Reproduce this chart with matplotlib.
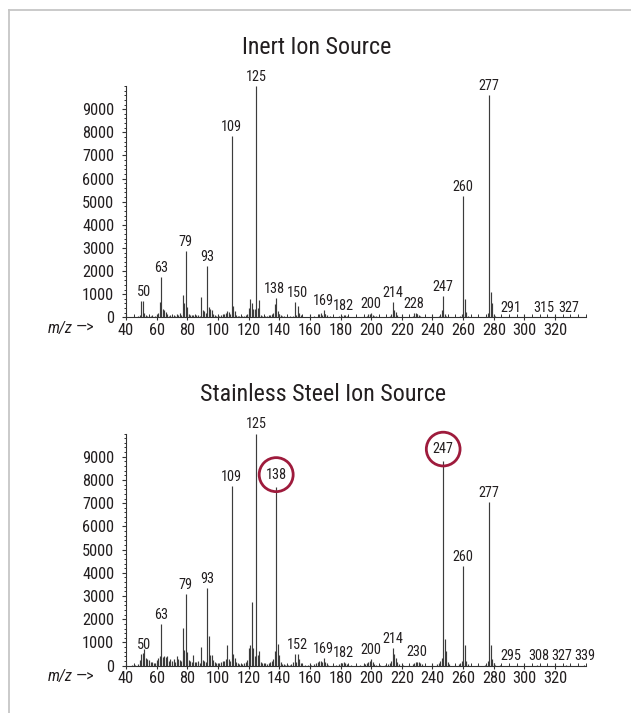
import matplotlib
matplotlib.use("Agg")
import matplotlib.pyplot as plt
from matplotlib.ticker import MultipleLocator, FixedLocator
from matplotlib.lines import Line2D
from matplotlib import font_manager

names = sorted({f.name for f in font_manager.fontManager.ttflist})
cands = ['Roboto Condensed', 'Liberation Sans Narrow', 'DejaVu Sans Condensed', 'Open Sans Condensed',
         'Noto Sans Condensed', 'Arial Narrow', 'Roboto', 'Liberation Sans', 'DejaVu Sans']
FONT = [c for c in cands if c in names] or ['DejaVu Sans']
plt.rcParams['font.family'] = FONT

# ---------------- data ----------------
top_title = "Inert Ion Source"
bottom_title = "Stainless Steel Ion Source"

top_mz = [44, 45, 48, 49, 50, 51, 52, 53, 54, 55, 56, 57, 59, 60, 61, 62, 63, 64, 65, 66,
          67, 68, 69, 70, 71, 72, 73, 74, 75, 76, 77, 78, 79, 80, 81, 82, 83, 84, 85, 86,
          87, 88, 89, 90, 91, 92, 93, 94, 95, 96, 97, 98, 99, 100, 101, 102, 103, 104, 105, 106,
          107, 108, 109, 110, 111, 112, 113, 114, 115, 116, 117, 118, 119, 120, 121, 122, 123, 124, 125, 126,
          127, 128, 129, 130, 131, 132, 133, 134, 135, 136, 137, 138, 139, 140, 141, 142, 143, 145, 147, 149,
          150, 151, 152, 153, 154, 155, 158, 160, 163, 165, 166, 167, 168, 169, 170, 171, 173, 177, 179, 181,
          182, 183, 184, 185, 188, 190, 195, 197, 198, 199, 200, 201, 202, 203, 210, 212, 213, 214, 215, 216,
          217, 219, 225, 227, 228, 229, 230, 231, 232, 240, 244, 245, 246, 247, 248, 249, 255, 258, 259, 260,
          261, 262, 263, 270, 275, 276, 277, 278, 279, 280, 281, 291, 315, 327]
top_int = [30, 40, 40, 100, 720, 700, 200, 120, 60, 60, 40, 80, 50, 80, 200, 650, 1730, 350, 300, 250,
           150, 60, 100, 50, 90, 60, 150, 120, 180, 120, 950, 600, 2880, 450, 150, 80, 100, 80, 60, 80,
           100, 60, 870, 300, 280, 200, 2200, 450, 380, 300, 150, 80, 60, 60, 50, 80, 150, 150, 180, 260,
           250, 150, 7850, 500, 280, 120, 60, 40, 50, 40, 60, 100, 150, 400, 790, 620, 380, 380, 10000, 400,
           750, 100, 60, 40, 60, 50, 80, 100, 120, 200, 580, 850, 280, 150, 100, 60, 40, 40, 40, 60,
           650, 120, 480, 200, 80, 40, 30, 30, 40, 60, 150, 180, 120, 330, 150, 80, 40, 30, 40, 60,
           100, 80, 40, 30, 30, 30, 40, 60, 130, 150, 180, 120, 60, 40, 30, 50, 150, 650, 300, 250,
           80, 30, 30, 50, 200, 180, 160, 100, 60, 30, 60, 100, 320, 920, 150, 60, 30, 60, 150, 5250,
           780, 250, 60, 30, 50, 200, 9600, 1100, 600, 100, 40, 30, 20, 20]
top_labels = [50, 63, 79, 93, 109, 125, 138, 150, 169, 182, 200, 214, 228, 247, 260, 277, 291, 315, 327]

bot_mz = [44, 45, 46, 48, 49, 50, 51, 52, 53, 54, 55, 56, 57, 58, 59, 60, 61, 62, 63, 64,
          65, 66, 67, 68, 69, 70, 71, 72, 73, 74, 75, 76, 77, 78, 79, 80, 81, 82, 83, 84,
          85, 86, 87, 88, 89, 90, 91, 92, 93, 94, 95, 96, 97, 98, 99, 100, 101, 102, 103, 104,
          105, 106, 107, 108, 109, 110, 111, 112, 113, 114, 115, 116, 117, 118, 119, 120, 121, 122, 123, 124,
          125, 126, 127, 128, 129, 130, 131, 132, 133, 134, 135, 136, 137, 138, 139, 140, 141, 142, 143, 144,
          145, 146, 147, 148, 149, 150, 151, 152, 153, 154, 155, 157, 159, 161, 163, 164, 165, 166, 167, 168,
          169, 170, 171, 172, 175, 177, 179, 180, 181, 182, 183, 184, 185, 187, 190, 193, 195, 196, 197, 198,
          199, 200, 201, 202, 203, 206, 209, 211, 212, 213, 214, 215, 216, 217, 218, 221, 225, 227, 228, 229,
          230, 231, 232, 233, 240, 243, 244, 245, 246, 247, 248, 249, 250, 251, 255, 257, 258, 259, 260, 261,
          262, 263, 270, 274, 275, 276, 277, 278, 279, 280, 281, 284, 295, 308, 327, 339]
bot_int = [50, 60, 40, 80, 250, 500, 550, 700, 350, 300, 250, 150, 180, 100, 120, 250, 350, 400, 1780, 380,
           400, 380, 420, 200, 300, 200, 280, 150, 420, 300, 250, 200, 1610, 670, 3080, 600, 250, 200, 150, 480,
           150, 150, 200, 120, 790, 250, 200, 180, 3340, 1280, 450, 480, 250, 150, 100, 80, 100, 150, 200, 200,
           300, 880, 300, 200, 7750, 500, 350, 150, 100, 80, 80, 60, 100, 150, 250, 750, 870, 2730, 780, 400,
           10000, 450, 620, 150, 100, 80, 100, 80, 120, 150, 200, 300, 650, 7700, 930, 450, 150, 80, 60, 50,
           60, 40, 50, 80, 150, 500, 150, 520, 300, 100, 60, 40, 50, 40, 60, 100, 150, 200, 200, 180,
           320, 150, 100, 50, 40, 50, 80, 100, 120, 150, 100, 80, 50, 40, 50, 40, 60, 80, 100, 150,
           200, 270, 150, 80, 50, 40, 40, 60, 100, 200, 750, 500, 320, 150, 60, 40, 40, 60, 100, 150,
           180, 150, 100, 60, 50, 60, 100, 200, 350, 8800, 1140, 650, 150, 60, 40, 60, 100, 200, 4300, 900,
           220, 80, 40, 50, 80, 200, 7040, 900, 300, 100, 50, 30, 30, 20, 20, 20]
bot_labels = [50, 63, 79, 93, 109, 125, 138, 152, 169, 182, 200, 214, 230, 247, 260, 277, 295, 308, 327, 339]
bot_circled = [138, 247]

y_ticks = [0, 1000, 2000, 3000, 4000, 5000, 6000, 7000, 8000, 9000]
x_ticks = [40, 60, 80, 100, 120, 140, 160, 180, 200, 220, 240, 260, 280, 300, 320]

# ---------------- styling ----------------
W, H = 631, 713
fig = plt.figure(figsize=(W / 100, H / 100), dpi=100)
TXT = '#231f20'
LINE = '#3c3c3c'
RED = '#9e1b3c'

# horizontal nudges (in pixels) of crowded peak labels, as in the reference
top_nudge = {50: 3, 138: -1.5, 150: 2.5, 315: -4, 327: 2.5}
bot_nudge = {50: 3, 295: -6, 308: 2, 327: -4, 339: 1}


def fx(px):
    return px / W


def fy(py):
    return 1 - py / H


fig.add_artist(Line2D([fx(8.5), 1.0], [fy(9.5), fy(9.5)], color='#c6c6c6', lw=1.3,
                      transform=fig.transFigure))
fig.add_artist(Line2D([fx(8.5), fx(8.5)], [fy(9.5), 0.0], color='#c6c6c6', lw=1.3,
                      transform=fig.transFigure))

LAB_FS = 10.3
TICK_FS = 11.8
TITLE_FS = 17.3


def draw(ax, mz, inten, labels, circled, nudge, title, title_xy, xlab_y):
    lookup = dict(zip(mz, inten))
    ax.vlines(mz, 0, inten, color=LINE, lw=0.85)
    ax.set_xlim(40, 340)
    ax.set_ylim(0, 10000)
    for s in ('top', 'right'):
        ax.spines[s].set_visible(False)
    for s in ('left', 'bottom'):
        ax.spines[s].set_color('#333333')
        ax.spines[s].set_linewidth(0.8)
    ax.yaxis.set_major_locator(FixedLocator(y_ticks))
    ax.yaxis.set_minor_locator(MultipleLocator(200))
    ax.xaxis.set_major_locator(FixedLocator(x_ticks))
    ax.xaxis.set_minor_locator(MultipleLocator(5))
    ax.tick_params(axis='y', which='major', direction='out', length=3, width=0.8,
                   labelsize=TICK_FS, pad=5.5, colors='#333333', labelcolor=TXT)
    ax.tick_params(axis='y', which='minor', direction='out', length=1.5, width=0.7, colors='#333333')
    ax.tick_params(axis='x', which='major', direction='inout', length=5, width=0.8,
                   labelsize=TICK_FS, pad=1.5, colors='#333333', labelcolor=TXT)
    ax.tick_params(axis='x', which='minor', direction='in', length=2.2, width=0.7, colors='#333333')
    ax.patch.set_alpha(0)
    for lab in labels:
        h = lookup.get(lab, 0)
        dx = nudge.get(lab, 0) * 0.72  # pixels -> points
        kw = dict(ha='center', va='bottom', fontsize=LAB_FS, color=TXT, zorder=5)
        if lab in circled:
            kw['bbox'] = dict(boxstyle='circle,pad=0.45', fc='none', ec=RED, lw=2.0)
            ax.annotate(str(lab), xy=(lab, h), xytext=(dx, 3.8), textcoords='offset points', **kw)
        else:
            ax.annotate(str(lab), xy=(lab, h), xytext=(dx, 1.5), textcoords='offset points', **kw)
    fig.text(fx(title_xy[0]), fy(title_xy[1]), title, ha='center', va='center',
             fontsize=TITLE_FS, color=TXT)
    fig.text(fx(48), fy(xlab_y), 'm/z', style='italic', ha='left', va='center',
             fontsize=TICK_FS, color=TXT)
    fig.text(fx(76), fy(xlab_y), '\u2014>', ha='left', va='center', fontsize=TICK_FS, color=TXT)


ax1 = fig.add_axes([fx(126), fy(317.3), fx(585.7) - fx(126), fy(86) - fy(317.3)])
draw(ax1, top_mz, top_int, top_labels, [], top_nudge, top_title, (317, 47), 328.5)

ax2 = fig.add_axes([fx(126), fy(665.7), fx(585.7) - fx(126), fy(433.5) - fy(665.7)])
draw(ax2, bot_mz, bot_int, bot_labels, bot_circled, bot_nudge, bottom_title, (323, 394), 677)

fig.savefig('out.png', dpi=100)
